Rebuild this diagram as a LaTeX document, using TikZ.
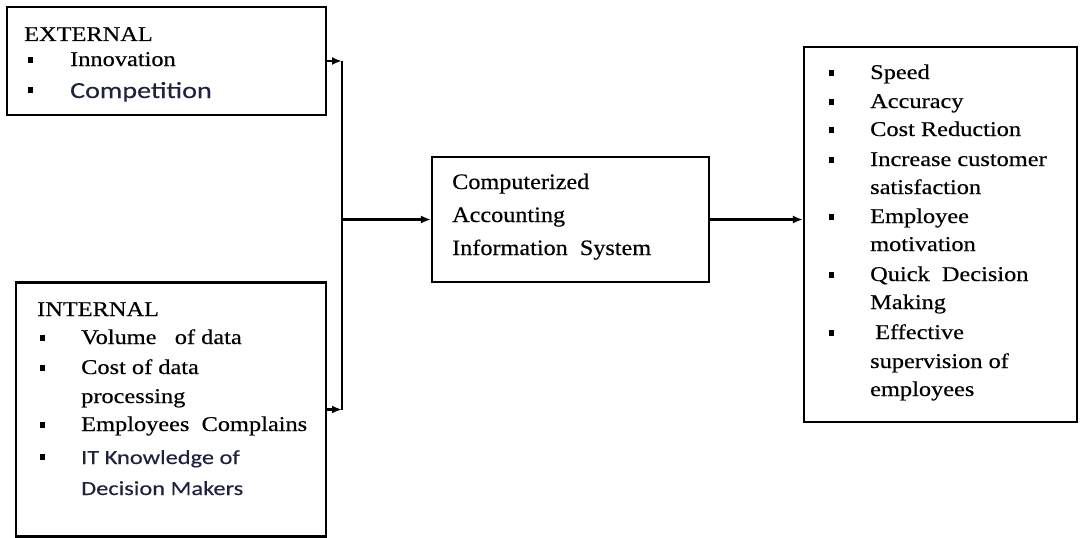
\documentclass[tikz,border=0pt]{standalone}
\usepackage{fontspec}
\setmainfont{Liberation Serif}[FakeStretch=1.16,FakeBold=0.4]
\newfontfamily\calfont{Carlito}[FakeStretch=1.22,FakeBold=0.3]
\newfontfamily\cenfont{Liberation Serif}[FakeStretch=1.1,FakeBold=0.4]
\usetikzlibrary{arrows.meta}
\definecolor{navy}{RGB}{30,34,62}
\begin{document}
\begin{tikzpicture}[x=1pt,y=-1pt,
  box/.style={draw,line width=2.2pt,rectangle,inner sep=0pt},
  txt/.style={anchor=base west,inner sep=0pt,font=\fontsize{21}{25}\selectfont},
  ctxt/.style={anchor=base west,inner sep=0pt,font=\cenfont\fontsize{22}{26}\selectfont},
  stxt/.style={anchor=base west,inner sep=0pt,text=navy},
  arr/.style={line width=2.2pt,-{Latex[length=10pt,width=8pt]}},
  ln/.style={line width=2.2pt}]
\useasboundingbox (0,0) rectangle (1080,538);
% boxes
\node[box,minimum width=319pt,minimum height=108pt] (ext) at (166.5,61) {};
\node[box,minimum width=310pt,minimum height=254pt] (int) at (171,409.5) {};
\node[box,minimum width=277pt,minimum height=125pt] (cen) at (570.5,219.5) {};
\node[box,minimum width=273pt,minimum height=375pt] (res) at (940.5,234.5) {};
\coordinate (J) at (342,219.5);
% connectors
\draw[ln] (ext.east -| J) -- (int.east -| J);
\draw[arr] (ext.east) -- (ext.east -| J);
\draw[arr] (int.east) -- (int.east -| J);
\draw[arr] (J) -- (cen.west);
\draw[arr] (cen.east) -- (cen.east -| res.west);
% bullets
\foreach \x/\y in {30/60,30/90,
  42/338,42/368,42/425,42/457,
  831/73,831/102,831/130,831/160,831/217,831/275,831/333}
  \fill (\x-2.5,\y-3) rectangle (\x+2.5,\y+3);
% external text
\node[txt] (extT) at (24,41) {EXTERNAL};
\node[txt] (e1) at (70,66) {Innovation};
\node[stxt,font=\calfont\fontsize{23}{27}\selectfont] (e2) at (70,98) {Competition};
% internal text
\node[txt] (intT) at (37,316) {INTERNAL};
\node[txt] (i1) at (81,344) {Volume\ \ \ of data};
\node[txt] (i2) at (81,374) {Cost of data};
\node[txt] (i3) at (81,403) {processing};
\node[txt] (i4) at (81,431) {Employees\ \ Complains};
\node[stxt,font=\calfont\fontsize{20}{24}\selectfont] (i5) at (81,464) {IT Knowledge of};
\node[stxt,font=\calfont\fontsize{20}{24}\selectfont] (i6) at (81,495) {Decision Makers};
% central text
\node[ctxt] (c1) at (452,189) {Computerized};
\node[ctxt] (c2) at (452,222) {Accounting};
\node[ctxt] (c3) at (452,255) {Information\ \ System};
% result text
\node[txt] (r1) at (870,79) {Speed};
\node[txt] (r2) at (870,108) {Accuracy};
\node[txt] (r3) at (870,136) {Cost Reduction};
\node[txt] (r4) at (870,166) {Increase customer};
\node[txt] (r5) at (870,194) {satisfaction};
\node[txt] (r6) at (870,223) {Employee};
\node[txt] (r7) at (870,251) {motivation};
\node[txt] (r8) at (870,281) {Quick\ \ Decision};
\node[txt] (r9) at (870,309) {Making};
\node[txt] (r10) at (875,339) {Effective};
\node[txt] (r11) at (870,368) {supervision of};
\node[txt] (r12) at (870,396) {employees};
\end{tikzpicture}
\end{document}
